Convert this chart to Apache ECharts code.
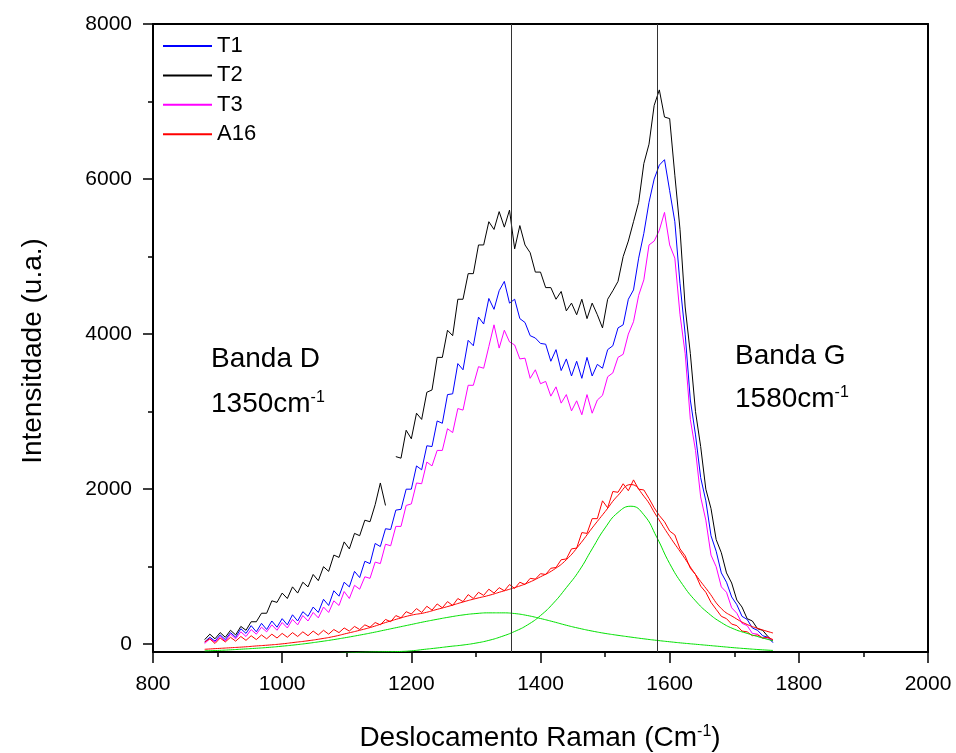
<!DOCTYPE html>
<html>
<head>
<meta charset="utf-8">
<script src="https://cdn.jsdelivr.net/npm/echarts@6/dist/echarts.min.js"></script>
<style>
  html, body { margin: 0; background: #fff; }
  #chart { width: 956px; height: 753px; }
</style>
</head>
<body>
<div id="chart"></div>
<script>
// Raman shift (cm-1) of the measured spectra
const ramanShift = [
  880, 888, 896, 904, 912, 920, 928, 936, 944, 952,
  960, 968, 976, 984, 992, 1000, 1008, 1016, 1024, 1032,
  1040, 1048, 1056, 1064, 1072, 1080, 1088, 1096, 1104, 1112,
  1120, 1128, 1136, 1144, 1152, 1160, 1168, 1176, 1184, 1192,
  1200, 1208, 1216, 1224, 1232, 1240, 1248, 1256, 1264, 1272,
  1280, 1288, 1296, 1304, 1312, 1320, 1328, 1336, 1344, 1352,
  1360, 1368, 1376, 1384, 1392, 1400, 1408, 1416, 1424, 1432,
  1440, 1448, 1456, 1464, 1472, 1480, 1488, 1496, 1504, 1512,
  1520, 1528, 1536, 1544, 1552, 1560, 1568, 1576, 1584, 1592,
  1600, 1608, 1616, 1624, 1632, 1640, 1648, 1656, 1664, 1672,
  1680, 1688, 1696, 1704, 1712, 1720, 1728, 1736, 1744, 1752,
  1760
];

const t1 = [
  30, 90, 40, 120, 60, 150, 90, 200, 140, 240,
  160, 270, 190, 300, 220, 330, 250, 380, 300, 420,
  360, 480, 410, 580, 500, 690, 620, 800, 740, 940,
  860, 1070, 1040, 1300, 1260, 1490, 1480, 1730, 1740, 2000,
  2000, 2300, 2250, 2560, 2550, 2880, 2850, 3220, 3230, 3620,
  3540, 3920, 3850, 4220, 4130, 4460, 4320, 4560, 4680, 4400,
  4450, 4200, 4150, 3980, 3950, 3880, 3870, 3650, 3800, 3530,
  3680, 3460, 3650, 3430, 3700, 3460, 3610, 3560, 3800, 3850,
  4080, 4120, 4450, 4570, 4980, 5300, 5700, 6000, 6180, 6250,
  5850, 5450, 4650, 4000, 3150, 2700, 2150, 1850, 1400, 1200,
  920, 800, 610, 510, 360, 320, 210, 180, 110, 90,
  20
];

// T2 has a break in the record around 1165 cm-1
const t2 = [
  60, 130, 70, 150, 90, 180, 120, 230, 180, 290,
  290, 400, 400, 560, 540, 660, 590, 740, 660, 800,
  740, 900, 820, 1000, 940, 1150, 1120, 1320, 1230, 1430,
  1400, 1600, 1580, 1800, 2080, 1790, null, 2420, 2400, 2760,
  2650, 2980, 2900, 3250, 3280, 3700, 3700, 4050, 3980, 4450,
  4450, 4780, 4780, 5150, 5150, 5450, 5350, 5580, 5380, 5600,
  5100, 5400, 5150, 5050, 4800, 4800, 4600, 4600, 4450, 4550,
  4300, 4400, 4250, 4450, 4200, 4400, 4250, 4080, 4450, 4560,
  4680, 5000, 5200, 5450, 5700, 6200, 6450, 6950, 7150, 6800,
  6780, 6050, 5350, 4350, 3750, 3000, 2550, 2000, 1750, 1350,
  1180, 920, 790, 570, 480, 330, 300, 200, 180, 100,
  40
];

const t3 = [
  10, 70, 30, 100, 40, 130, 70, 160, 100, 190,
  130, 220, 160, 250, 180, 280, 210, 320, 250, 370,
  300, 410, 340, 480, 410, 560, 500, 680, 590, 760,
  710, 870, 850, 1060, 1040, 1290, 1270, 1520, 1520, 1790,
  1810, 2080, 2070, 2350, 2300, 2500, 2500, 2780, 2730, 3040,
  3020, 3340, 3340, 3580, 3560, 3840, 4120, 3820, 4050, 3900,
  3860, 3680, 3690, 3430, 3540, 3360, 3390, 3200, 3320, 3110,
  3220, 3010, 3140, 2960, 3220, 2980, 3150, 3210, 3450, 3500,
  3700, 3740, 4000, 4160, 4500, 4700, 5150, 5200, 5340, 5570,
  5150, 4980, 4250, 3750, 2900, 2500, 1900, 1600, 1150, 1000,
  740, 670, 470, 400, 270, 240, 140, 130, 80, 80,
  50
];

const a16 = [
  30, 70, 10, 80, 30, 90, 40, 100, 50, 110,
  60, 120, 70, 130, 80, 140, 90, 150, 100, 160,
  110, 170, 120, 180, 130, 190, 150, 210, 170, 230,
  190, 250, 220, 280, 250, 320, 290, 370, 340, 420,
  390, 460, 410, 490, 440, 520, 470, 550, 500, 590,
  550, 640, 590, 670, 630, 710, 660, 730, 690, 770,
  720, 800, 770, 850, 840, 910, 900, 980, 990, 1090,
  1100, 1230, 1240, 1440, 1430, 1620, 1620, 1850, 1760, 1970,
  1960, 2070, 1980, 2120, 2000, 1990, 1880, 1760, 1660, 1580,
  1460, 1410, 1230, 1140, 980, 900, 750, 670, 540, 450,
  360, 330, 260, 240, 170, 160, 110, 120, 80, 90,
  60
];

// peak fit of A16 (sum and the D / G components)
const fitShift = [
  880, 900, 920, 940, 960, 980, 1000, 1020, 1040, 1060,
  1080, 1100, 1120, 1140, 1160, 1180, 1200, 1220, 1240, 1260,
  1280, 1300, 1320, 1340, 1360, 1380, 1400, 1420, 1440, 1460,
  1480, 1500, 1520, 1540, 1560, 1580, 1600, 1620, 1640, 1660,
  1680, 1700, 1720, 1740, 1760
];
const a16Fit = [
  -65, -55, -45, -35, -22, -10, 5, 25, 45, 70,
  100, 140, 180, 225, 280, 330, 375, 405, 450, 495,
  545, 590, 630, 680, 730, 790, 870, 960, 1090, 1280,
  1500, 1710, 1920, 2060, 1910, 1650, 1390, 1150, 900, 680,
  460, 345, 255, 195, 145
];
const bandDFit = [
  -85, -80, -72, -62, -52, -40, -25, -8, 12, 35,
  60, 88, 118, 150, 185, 220, 255, 290, 322, 352,
  378, 396, 405, 405, 396, 370, 332, 290, 245, 205,
  170, 140, 115, 92, 70, 50, 32, 15, 0, -15,
  -30, -45, -58, -70, -80
];
const bandGFit = [
  -190, -185, -180, -175, -170, -165, -158, -150, -142, -132,
  -122, -112, -105, -100, -97, -94, -85, -66, -48, -28,
  -10, 15, 50, 100, 165, 250, 370, 530, 730, 950,
  1230, 1500, 1700, 1780, 1670, 1380, 1040, 770, 560, 400,
  280, 195, 140, 90, 45
];

const bandLines = [1355, 1580];
const yTicks = [0, 2000, 4000, 6000, 8000];
const yMinorTicks = [1000, 3000, 5000, 7000];

const font = '"Liberation Sans", Arial, sans-serif';
const chart = echarts.init(document.getElementById('chart'));

const pairs = (xs, ys) => xs.map((x, i) => [x, ys[i]]);
const plain = v => String(v);

const lineSeries = (name, xs, ys, color, smooth) => ({
  name: name,
  type: 'line',
  data: pairs(xs, ys),
  showSymbol: false,
  symbol: 'none',
  smooth: smooth || false,
  lineStyle: { color: color, width: 1 },
  itemStyle: { color: color },
  emphasis: { disabled: true }
})

const sup = {
  n: { fontSize: 28, fontFamily: font, color: '#000' },
  s: { fontSize: 16, fontFamily: font, color: '#000', verticalAlign: 'top' }
}

const option = {
  animation: false,
  backgroundColor: '#fff',
  grid: {
    left: 153,
    right: 28,
    top: 24,
    bottom: 101,
    containLabel: false,
    outerBoundsMode: 'none'
  },
  legend: {
    data: ['T1', 'T2', 'T3', 'A16'],
    orient: 'vertical',
    left: 163,
    top: 35,
    padding: 0,
    itemWidth: 49,
    itemHeight: 2,
    itemGap: 7.4,
    icon: 'rect',
    textStyle: { fontSize: 22, fontFamily: font, color: '#000', lineHeight: 22 }
  },
  xAxis: [
    {
      type: 'value',
      min: 800,
      max: 2000,
      interval: 200,
      axisLine: { show: true, onZero: false, lineStyle: { color: '#000', width: 2 } },
      axisTick: { show: true, inside: false, length: 11, lineStyle: { color: '#000', width: 1.5 } },
      minorTick: { show: true, splitNumber: 2, length: 5, lineStyle: { color: '#000', width: 1.5 } },
      axisLabel: { fontSize: 21, fontFamily: font, color: '#000', margin: 22, formatter: plain },
      splitLine: { show: false }
    },
    {
      type: 'value',
      position: 'top',
      min: 800,
      max: 2000,
      axisLine: { show: true, onZero: false, lineStyle: { color: '#000', width: 2 } },
      axisTick: { show: false },
      axisLabel: { show: false },
      splitLine: { show: false }
    }
  ],
  yAxis: [
    {
      type: 'value',
      min: -100,
      max: 8000,
      axisLine: { show: true, onZero: false, lineStyle: { color: '#000', width: 2 } },
      axisTick: { show: true, inside: false, length: 10, customValues: yTicks, lineStyle: { color: '#000', width: 1.5 } },
      axisLabel: { fontSize: 21, fontFamily: font, color: '#000', margin: 21, customValues: yTicks, formatter: plain },
      splitLine: { show: false }
    },
    {
      type: 'value',
      position: 'left',
      min: -100,
      max: 8000,
      axisLine: { show: false },
      axisTick: { show: true, inside: false, length: 5, customValues: yMinorTicks, lineStyle: { color: '#000', width: 1.5 } },
      axisLabel: { show: false },
      splitLine: { show: false }
    },
    {
      type: 'value',
      position: 'right',
      min: -100,
      max: 8000,
      axisLine: { show: true, onZero: false, lineStyle: { color: '#000', width: 2 } },
      axisTick: { show: false },
      axisLabel: { show: false },
      splitLine: { show: false }
    }
  ],
  series: [
    Object.assign(lineSeries('T1', ramanShift, t1, '#0000ff'), {
      markLine: {
        silent: true,
        symbol: ['none', 'none'],
        label: { show: false },
        lineStyle: { color: '#333', width: 1, type: 'solid' },
        data: bandLines.map(x => ({ xAxis: x }))
      }
    }),
    lineSeries('T2', ramanShift, t2, '#000000'),
    lineSeries('T3', ramanShift, t3, '#ff00ff'),
    lineSeries('A16', ramanShift, a16, '#ff0000'),
    lineSeries('A16 ajuste', fitShift, a16Fit, '#ff0000', true),
    lineSeries('Banda D ajuste', fitShift, bandDFit, '#00e000', true),
    lineSeries('Banda G ajuste', fitShift, bandGFit, '#00e000', true)
  ],
  graphic: [
    { type: 'text', x: 211, y: 359, style: { text: 'Banda D', fontSize: 28, fontFamily: font, fill: '#000', verticalAlign: 'middle' } },
    { type: 'text', x: 211, y: 404, style: { text: '{n|1350cm}{s|-1}', rich: sup, verticalAlign: 'middle' } },
    { type: 'text', x: 735, y: 356, style: { text: 'Banda G', fontSize: 28, fontFamily: font, fill: '#000', verticalAlign: 'middle' } },
    { type: 'text', x: 735, y: 399, style: { text: '{n|1580cm}{s|-1}', rich: sup, verticalAlign: 'middle' } },
    { type: 'text', x: 540, y: 738, style: { text: '{n|Deslocamento Raman (Cm}{s|-1}{n|)}', rich: sup, align: 'center', verticalAlign: 'middle' } },
    { type: 'text', x: 33, y: 351, rotation: Math.PI / 2, style: { text: 'Intensitdade (u.a.)', fontSize: 28, fontFamily: font, fill: '#000', align: 'center', verticalAlign: 'middle' } }
  ]
}

chart.setOption(option)
</script>
</body>
</html>
